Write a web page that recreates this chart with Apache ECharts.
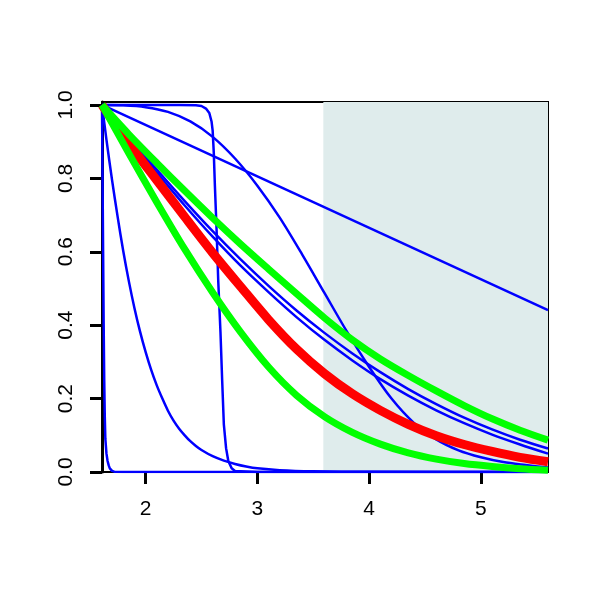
<!DOCTYPE html>
<html><head><meta charset="utf-8">
<script src="https://cdn.jsdelivr.net/npm/echarts@6/dist/echarts.min.js"></script>
<style>html,body{margin:0;padding:0;background:#fff}#c{width:600px;height:600px}</style>
</head><body><div id="c"></div>
<script>
// axis ranges and ticks
const xRange = [1.61, 5.6];
const yRange = [0, 1.008];
const xTicks = [2, 3, 4, 5];
const yTicks = [0, 0.2, 0.4, 0.6, 0.8, 1.0];
const shadeStart = 3.59;

// shared x grid for the smooth curves
const gridX = [1.61, 1.85, 2.1, 2.35, 2.6, 2.85, 3.1, 3.35, 3.6, 3.85, 4.1, 4.35, 4.6, 4.85, 5.1, 5.35, 5.6];

// blue curves
const vX = [1.61, 1.615, 1.62, 1.625, 1.63, 1.635, 1.64, 1.65, 1.66, 1.67, 1.68, 1.69, 1.7, 1.72, 1.8, 5.6];
const vY = [1, 0.8, 0.6, 0.4, 0.25, 0.15, 0.09, 0.05, 0.03, 0.018, 0.01, 0.006, 0.003, 0.001, 0, 0];

const eX = [1.61, 1.65, 1.7, 1.75, 1.8, 1.85, 1.9, 1.95, 2.0, 2.05, 2.1, 2.15, 2.2, 2.25, 2.3, 2.35, 2.4, 2.45, 2.5, 2.6, 2.7, 2.8, 2.9, 3.0, 3.2, 3.5, 4.0, 5.6];
const eY = [1, 0.905, 0.795, 0.695, 0.602, 0.52, 0.447, 0.383, 0.327, 0.278, 0.236, 0.2, 0.167, 0.14, 0.118, 0.1, 0.084, 0.071, 0.06, 0.043, 0.031, 0.022, 0.015, 0.01, 0.005, 0.002, 0.0005, 0];

const sX = [1.61, 2.0, 2.3, 2.45, 2.5, 2.54, 2.57, 2.59, 2.6, 2.61, 2.62, 2.635, 2.65, 2.67, 2.685, 2.7, 2.72, 2.74, 2.77, 2.8, 3.0, 5.6];
const sY = [1, 1, 1, 0.999, 0.997, 0.99, 0.978, 0.955, 0.93, 0.87, 0.78, 0.66, 0.52, 0.38, 0.25, 0.13, 0.065, 0.03, 0.01, 0.003, 0, 0];

const wX = [1.61, 1.8, 2.0, 2.2, 2.4, 2.6, 2.8, 3.0, 3.2, 3.4, 3.6, 3.8, 4.0, 4.2, 4.4, 4.6, 4.8, 5.0, 5.2, 5.4, 5.6];
const wY = [1, 0.999, 0.994, 0.981, 0.955, 0.913, 0.854, 0.78, 0.693, 0.593, 0.488, 0.383, 0.286, 0.2, 0.134, 0.089, 0.059, 0.04, 0.027, 0.019, 0.012];

const lineX = [1.61, 5.6];
const lineY = [1, 0.441];

const b1Y = [1, 0.912, 0.824, 0.738, 0.656, 0.579, 0.507, 0.44, 0.379, 0.323, 0.272, 0.226, 0.185, 0.148, 0.116, 0.088, 0.064];
const b2Y = [1, 0.908, 0.816, 0.726, 0.641, 0.562, 0.49, 0.422, 0.36, 0.304, 0.253, 0.208, 0.168, 0.133, 0.102, 0.075, 0.05];

// red curve
const redY = [1, 0.895, 0.795, 0.695, 0.597, 0.505, 0.415, 0.335, 0.268, 0.213, 0.168, 0.13, 0.099, 0.075, 0.056, 0.04, 0.028];

// green curves
const g1Y = [1, 0.92, 0.842, 0.766, 0.692, 0.621, 0.553, 0.486, 0.42, 0.36, 0.308, 0.263, 0.221, 0.181, 0.145, 0.114, 0.087];
const g2Y = [1, 0.868, 0.735, 0.607, 0.489, 0.381, 0.286, 0.209, 0.151, 0.108, 0.076, 0.052, 0.035, 0.023, 0.015, 0.009, 0.005];

const zip = (xs, ys) => xs.map((x, i) => [x, ys[i]]);
const BLUE = '#0000ff', RED = '#ff0000', GREEN = '#00ff00';
const FONT = 'Liberation Sans';

function curve(xs, ys, color, width, z, smooth) {
  return {
    type: 'line', data: zip(xs, ys), showSymbol: false, symbol: 'none',
    smooth: smooth, z: z, silent: true,
    lineStyle: { color: color, width: width, cap: 'butt', join: 'round' }
  };
}

const chart = echarts.init(document.getElementById('c'), null, { renderer: 'canvas' });
chart.setOption({
  animation: false,
  backgroundColor: '#ffffff',
  grid: { left: 102, right: 52, top: 102, bottom: 128, show: true, borderColor: '#000', borderWidth: 2, backgroundColor: 'transparent' },
  xAxis: {
    type: 'value', min: xRange[0], max: xRange[1],
    splitLine: { show: false },
    axisLine: { show: true, lineStyle: { color: '#000', width: 2 } },
    axisTick: { show: true, inside: false, length: 12, lineStyle: { color: '#000', width: 3 }, customValues: xTicks },
    axisLabel: { customValues: xTicks, margin: 27, color: '#000', fontSize: 21, fontFamily: FONT, formatter: v => String(v) }
  },
  yAxis: {
    type: 'value', min: yRange[0], max: yRange[1],
    splitLine: { show: false },
    axisLine: { show: true, lineStyle: { color: '#000', width: 3 } },
    axisTick: { show: true, inside: false, length: 12, lineStyle: { color: '#000', width: 3 }, customValues: yTicks },
    axisLabel: { customValues: yTicks, rotate: 90, margin: 25, color: '#000', fontSize: 21, fontFamily: FONT, formatter: v => v.toFixed(1) }
  },
  series: [
    { type: 'line', data: [], z: 1, silent: true,
      markArea: { silent: true, itemStyle: { color: '#dfecec' }, data: [[{ xAxis: shadeStart }, { xAxis: xRange[1] }]] } },
    curve(vX, vY, BLUE, 2.5, 3, false),
    curve(eX, eY, BLUE, 2.5, 3, 0.3),
    curve(sX, sY, BLUE, 2.5, 3, false),
    curve(wX, wY, BLUE, 2.5, 3, 0.3),
    curve(lineX, lineY, BLUE, 2.5, 3, false),
    curve(gridX, b1Y, BLUE, 2.5, 3, 0.3),
    curve(gridX, b2Y, BLUE, 2.5, 3, 0.3),
    curve(gridX, redY, RED, 9, 4, 0.3),
    curve(gridX, g1Y, GREEN, 7, 5, 0.3),
    curve(gridX, g2Y, GREEN, 7, 5, 0.3)
  ]
});
</script>
</body></html>
